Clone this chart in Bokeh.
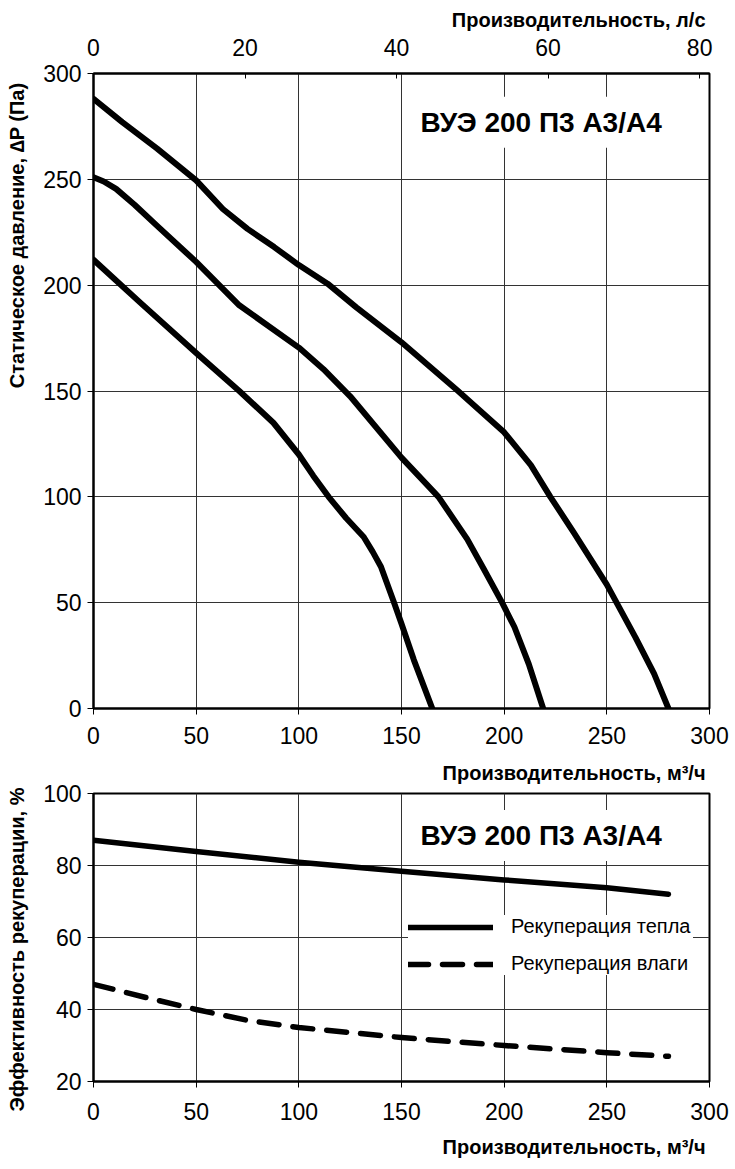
from bokeh.plotting import figure
from bokeh.models import Range1d, LinearAxis, FixedTicker, Label, Legend, LegendItem, Title
from bokeh.layouts import column
from bokeh.embed import file_html
from bokeh.resources import INLINE

# ---------------- data: pressure curves (m3/h, Pa) ----------------
flow_high = [0, 14, 31, 50, 63, 75, 88, 100, 114, 128, 150, 177, 200, 213, 222.5, 234, 250, 264, 273, 280]
pres_high = [288, 277, 264.5, 249.5, 236, 226.6, 218, 209.5, 200.7, 189.5, 173, 150.5, 130.5, 115, 100, 83, 58.5, 33.5, 16.5, 0]

flow_mid = [0, 5, 11, 20, 31, 50, 71, 100, 112, 125, 150, 168, 182, 190, 199, 205, 212, 219]
pres_mid = [251, 249, 245.5, 238, 228, 211, 190.5, 170.5, 160.3, 147.5, 118.5, 100, 80, 66, 50, 38.5, 21, 0]

flow_low = [0, 22.5, 50, 71, 87.6, 100, 107, 114.5, 123, 131.6, 136, 140, 146, 150, 156, 165]
pres_low = [212, 192, 168, 150, 135, 120, 110, 100, 90, 81, 74, 67, 51, 40, 23, 0]

# ---------------- data: recuperation efficiency (m3/h, %) ----------------
heat_flow = [0, 50, 100, 150, 200, 250, 280]
heat_eff = [87, 83.9, 80.9, 78.4, 76, 73.8, 72]

moist_flow = [0, 25, 50, 75, 100, 150, 200, 250, 280]
moist_eff = [47, 43.4, 40, 37, 35, 32.2, 30, 28, 27]

# ---------------- ticks / labels ----------------
flow_ticks = [0, 50, 100, 150, 200, 250, 300]
ls_ticks = [0, 20, 40, 60, 80]
pres_ticks = [0, 50, 100, 150, 200, 250, 300]
eff_ticks = [20, 40, 60, 80, 100]

model_name = "ВУЭ 200 П3 А3/А4"
label_flow_m3h = "Производительность, м³/ч"
label_flow_ls = "Производительность, л/с"
label_pressure = "Статическое давление, ∆P (Па)"
label_eff = "Эффективность рекуперации, %"
legend_heat = "Рекуперация тепла"
legend_moist = "Рекуперация влаги"

FONT = "Liberation Sans"
TICK_SIZE = "23px"
AXLABEL_SIZE = "20px"
GRID = "#333333"


def style_axis(ax, tick_in=0, tick_out=6, standoff=8):
    ax.axis_label = None
    ax.major_label_text_font = FONT
    ax.major_label_text_font_size = TICK_SIZE
    ax.major_label_text_color = "black"
    ax.major_label_standoff = standoff
    ax.axis_line_color = "black"
    ax.axis_line_width = 2
    ax.major_tick_line_color = "black"
    ax.major_tick_line_width = 1
    ax.major_tick_in = tick_in
    ax.major_tick_out = tick_out
    ax.minor_tick_line_color = None


def axis_title(text, offset=0, standoff=10):
    return Title(text=text, align="right", offset=offset, standoff=standoff,
                 text_font=FONT, text_font_style="bold", text_font_size=AXLABEL_SIZE,
                 text_color="black")


def spacer(size):
    # small white title used only to leave an empty band next to the axis
    return Title(text=".", text_font=FONT, text_font_size="8px", text_color="white", standoff=size)


def model_label(x, y):
    kw = dict(x=x, y=y, text=model_name, text_align="center", text_baseline="middle",
              text_font=FONT, text_font_style="bold", text_font_size="28px",
              text_color="black", background_fill_color="white", background_fill_alpha=1.0)
    if "padding" in Label.properties():
        kw["padding"] = 10
    return Label(**kw)


def base_fig(height, y0, y1, top, bottom):
    p = figure(width=735, height=height, output_backend="svg", toolbar_location=None,
               x_range=Range1d(0, 300), y_range=Range1d(y0, y1),
               min_border_left=93, min_border_right=26, min_border_top=top, min_border_bottom=bottom)
    p.outline_line_color = "black"
    p.outline_line_width = 2
    p.background_fill_color = "white"
    p.border_fill_color = "white"
    return p


# ================= top chart =================
p1 = base_fig(752, 0, 300, 73, 44)
p1.xaxis.ticker = FixedTicker(ticks=flow_ticks)
p1.yaxis.ticker = FixedTicker(ticks=pres_ticks)
style_axis(p1.xaxis[0], standoff=12)
style_axis(p1.yaxis[0], standoff=6)

p1.extra_x_ranges = {"ls": Range1d(0, 81.3)}
top_ax = LinearAxis(x_range_name="ls", ticker=FixedTicker(ticks=ls_ticks))
style_axis(top_ax, tick_in=5, tick_out=0, standoff=18)
p1.add_layout(top_ax, "above")

p1.add_layout(axis_title(label_flow_ls, offset=4, standoff=10), "above")
p1.add_layout(spacer(5.5), "left")
p1.add_layout(axis_title(label_pressure, offset=9, standoff=0), "left")

p1.xgrid.ticker = FixedTicker(ticks=flow_ticks)
p1.ygrid.ticker = FixedTicker(ticks=pres_ticks)
for g in (p1.xgrid[0], p1.ygrid[0]):
    g.grid_line_color = GRID
    g.grid_line_width = 1

for xs, ys in ((flow_high, pres_high), (flow_mid, pres_mid), (flow_low, pres_low)):
    p1.line(xs, ys, line_color="black", line_width=6, line_cap="round", line_join="round")

p1.add_layout(model_label(218, 277))

# ================= bottom chart =================
p2 = base_fig(417, 20, 100, 41, 88)
# the x-axis title of the upper chart sits in the top margin of this figure
p2.add_layout(spacer(2.9), "above")
p2.add_layout(axis_title(label_flow_m3h, offset=4, standoff=0), "above")

p2.xaxis.ticker = FixedTicker(ticks=flow_ticks)
p2.yaxis.ticker = FixedTicker(ticks=eff_ticks)
style_axis(p2.xaxis[0], standoff=15)
style_axis(p2.yaxis[0], standoff=6)

p2.add_layout(axis_title(label_flow_m3h, offset=4, standoff=22), "below")
p2.add_layout(spacer(5.5), "left")
p2.add_layout(axis_title(label_eff, offset=-6, standoff=0), "left")

p2.xgrid.ticker = FixedTicker(ticks=flow_ticks)
p2.ygrid.ticker = FixedTicker(ticks=eff_ticks)
for g in (p2.xgrid[0], p2.ygrid[0]):
    g.grid_line_color = GRID
    g.grid_line_width = 1

r_heat = p2.line(heat_flow, heat_eff, line_color="black", line_width=5.5, line_cap="round",
                 line_join="round")
r_moist = p2.line(moist_flow, moist_eff, line_color="black", line_width=5.5, line_cap="round",
                  line_join="round", line_dash="20 14")

legend = Legend(items=[LegendItem(label=legend_heat, renderers=[r_heat]),
                       LegendItem(label=legend_moist, renderers=[r_moist])],
                location=(315, 106))
legend.background_fill_color = "white"
legend.background_fill_alpha = 1.0
legend.border_line_color = None
legend.glyph_width = 85
legend.glyph_height = 22
legend.label_height = 22
legend.label_width = 182
legend.spacing = 14
legend.padding = 10
legend.margin = 0
legend.label_standoff = 18
legend.label_text_font = FONT
legend.label_text_font_size = "20px"
legend.label_text_color = "black"
p2.add_layout(legend, "center")

p2.add_layout(model_label(218, 88.3))

layout = column(p1, p2, spacing=0)
open("out.html", "w").write(file_html(layout, INLINE))
